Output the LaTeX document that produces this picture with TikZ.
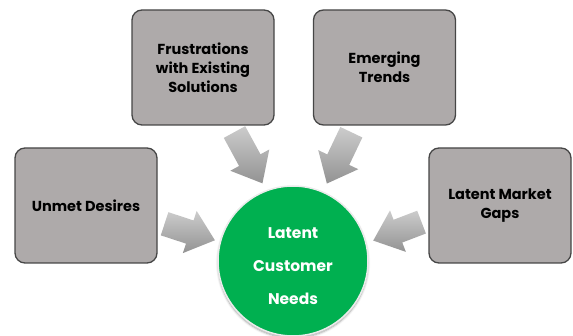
\documentclass[tikz,border=0pt]{standalone}
\usepackage{fontspec}
\setmainfont{Poppins}
\usetikzlibrary{shapes.arrows,calc,shadows.blur}
\definecolor{boxgray}{RGB}{174,170,170}
\definecolor{boxline}{RGB}{70,70,70}
\definecolor{needgreen}{RGB}{0,176,80}
\tikzset{
  idea/.style={draw=boxline, line width=1.3pt, fill=boxgray, rounded corners=10pt,
    minimum width=142pt, minimum height=115pt, align=center, inner sep=0pt,
    font=\bfseries\fontsize{14.5}{19}\selectfont, text=black},
  bigarrow/.style={single arrow, inner xsep=0pt, inner ysep=12pt, outer sep=0pt,
    minimum width=44pt, single arrow head extend=10pt, single arrow tip angle=80,
    top color=gray!40, bottom color=gray!85, draw=none},
}
\newcommand{\blockarrow}[2]{%
  \path let \p1=(#1), \p2=(#2), \n1={atan2(\y2-\y1,\x2-\x1)}, \n2={veclen(\x2-\x1,\y2-\y1)} in
    node[bigarrow, minimum height=\n2, rotate=\n1] at ($(\p1)!0.5!(\p2)$) {};}
\begin{document}
\begin{tikzpicture}[x=1pt,y=-1pt]
\useasboundingbox (0,0) rectangle (573,336);
\node[idea] (ud) at (86,205.5) {Unmet Desires};
\node[idea] (fr) at (203,67.5) {Frustrations\\with Existing\\Solutions};
\node[idea] (et) at (384.5,67.5) {Emerging\\Trends};
\node[idea] (lm) at (500,205.5) {Latent Market\\Gaps};
\coordinate (c0) at (293,261);
\coordinate (t1) at ($(ud.east)+(0,16)$);
\coordinate (h1) at ($(c0)+(-85,-23)$);
\coordinate (t2) at ($(fr.south)+(28,0)$);
\coordinate (h2) at ($(c0)+(-34,-84)$);
\coordinate (t3) at ($(et.south)+(-30,0)$);
\coordinate (h3) at ($(c0)+(37,-84)$);
\coordinate (t4) at ($(lm.west)+(0,14)$);
\coordinate (h4) at ($(c0)+(87,-23)$);
\blockarrow{t1}{h1}
\blockarrow{t2}{h2}
\blockarrow{t3}{h3}
\blockarrow{t4}{h4}
\node[circle, fill=needgreen, draw=white!92!black, line width=1.5pt, minimum size=150pt,
  blur shadow={shadow xshift=0pt, shadow yshift=-2pt, shadow blur steps=6, shadow opacity=35}]
  (c) at (c0) {};
\node[text=white, align=center, font=\bfseries\fontsize{15.5}{33}\selectfont, inner sep=0pt]
  (ct) at ($(c.center)+(0,5)$) {Latent\\Customer\\Needs};
\end{tikzpicture}
\end{document}
